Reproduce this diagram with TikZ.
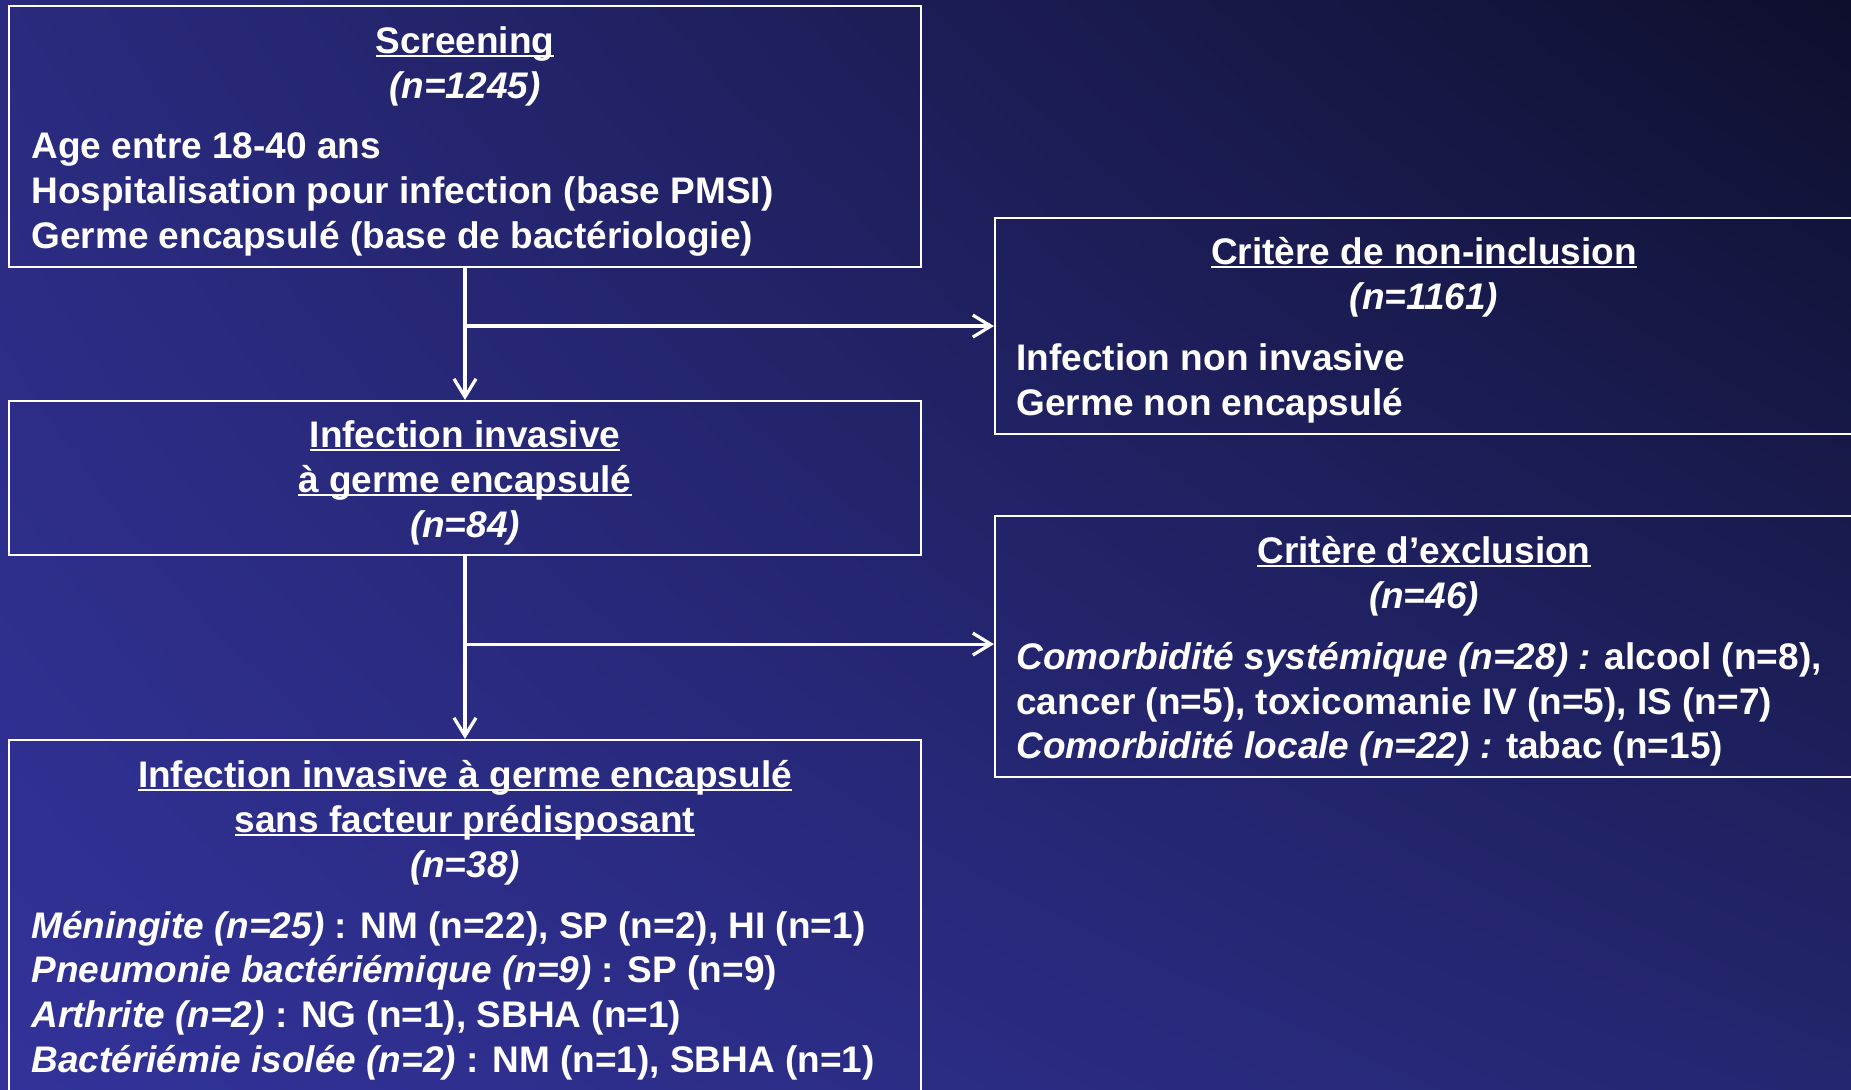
\documentclass[tikz,border=0pt]{standalone}
\usepackage{fontspec}
\setmainfont{Liberation Sans}
\usetikzlibrary{arrows.meta,shadings}
\definecolor{bgLL}{HTML}{32329A}
\definecolor{bgUL}{HTML}{2A2A7E}
\definecolor{bgLR}{HTML}{24266F}
\definecolor{bgUR}{HTML}{0E0F2C}
\newcommand\myul[1]{\setbox0\hbox{#1}\rlap{\rule[-0.1em]{\wd0}{0.06em}}\box0}
\tikzset{
  box/.style={draw=white, line width=1.1pt, inner sep=0pt, fill=none},
  conn/.style={draw=white, line width=1.6pt, -{Straight Barb[length=9pt,width=11pt,line width=1.6pt]}},
  ttl/.style={anchor=base, inner sep=0pt, text=white, font=\fontsize{18.5pt}{22.4pt}\selectfont\bfseries},
  txt/.style={anchor=base west, inner sep=0pt, text=white, font=\fontsize{18.5pt}{22.4pt}\selectfont\bfseries}
}
\begin{document}
\begin{tikzpicture}[x=0.5pt,y=-0.5pt]
\useasboundingbox (0,0) rectangle (1851,1090);
\clip (0,0) rectangle (1851,1090);
\shade[upper left=bgUL, upper right=bgUR, lower left=bgLL, lower right=bgLR] (0,0) rectangle (1851,1090);

% boxes
\node[box, minimum width=456pt, minimum height=130.5pt] (b1) at (465,136.5) {};
\node[box, minimum width=456pt, minimum height=77pt] (b2) at (465,478) {};
\node[box, minimum width=456pt, minimum height=185pt] (b3) at (465,925) {};
\node[box, minimum width=432pt, minimum height=108pt] (b4) at (1427,326) {};
\node[box, minimum width=432pt, minimum height=130.5pt] (b5) at (1427,646.5) {};

% box 1 text
\node[ttl] (t1a) at (465,53.5) {\myul{Screening}};
\node[ttl] (t1b) at (465,98.5) {\itshape (n=1245)};
\node[txt] (t1c) at (31,158.5) {Age entre 18-40 ans};
\node[txt] (t1d) at (31,203.5) {Hospitalisation pour infection (base PMSI)};
\node[txt] (t1e) at (31,248.5) {Germe encapsulé (base de bactériologie)};

% box 4 text
\node[ttl] (t4a) at (1424,264.5) {\myul{Critère de non-inclusion}};
\node[ttl] (t4b) at (1424,309.5) {\itshape (n=1161)};
\node[txt] (t4c) at (1016,370.5) {Infection non invasive};
\node[txt] (t4d) at (1016,415.5) {Germe non encapsulé};

% box 2 text
\node[ttl] (t2a) at (465,447.5) {\myul{Infection invasive}};
\node[ttl] (t2b) at (465,492.5) {\myul{à germe encapsulé}};
\node[ttl] (t2c) at (465,537.5) {\itshape (n=84)};

% box 5 text
\node[ttl] (t5a) at (1424,563.5) {\myul{Critère d’exclusion}};
\node[ttl] (t5b) at (1424,608.5) {\itshape (n=46)};
\node[txt] (t5c) at (1016,669.5) {\textit{Comorbidité systémique (n=28) :} alcool (n=8),};
\node[txt] (t5d) at (1016,714.5) {cancer (n=5), toxicomanie IV (n=5), IS (n=7)};
\node[txt] (t5e) at (1016,758.5) {\textit{Comorbidité locale (n=22) :} tabac (n=15)};

% box 3 text
\node[ttl] (t3a) at (465,787.5) {\myul{Infection invasive à germe encapsulé}};
\node[ttl] (t3b) at (465,832.5) {\myul{sans facteur prédisposant}};
\node[ttl] (t3c) at (465,877.5) {\itshape (n=38)};
\node[txt] (t3d) at (31,938.5) {\textit{Méningite (n=25)} : NM (n=22), SP (n=2), HI (n=1)};
\node[txt] (t3e) at (31,982.5) {\textit{Pneumonie bactériémique (n=9)} : SP (n=9)};
\node[txt] (t3f) at (31,1027.5) {\textit{Arthrite (n=2)} : NG (n=1), SBHA (n=1)};
\node[txt] (t3g) at (31,1072.5) {\textit{Bactériémie isolée (n=2)} : NM (n=1), SBHA (n=1)};

% connectors
\path (b1.south) ++(0,58) coordinate (j1);
\path (b2.south) ++(0,88) coordinate (j2);
\draw[conn] (b1.south) -- (b2.north);
\draw[conn] (j1) -- (j1 -| b4.west);
\draw[conn] (b2.south) -- (b3.north);
\draw[conn] (j2) -- (j2 -| b5.west);
\end{tikzpicture}
\end{document}
